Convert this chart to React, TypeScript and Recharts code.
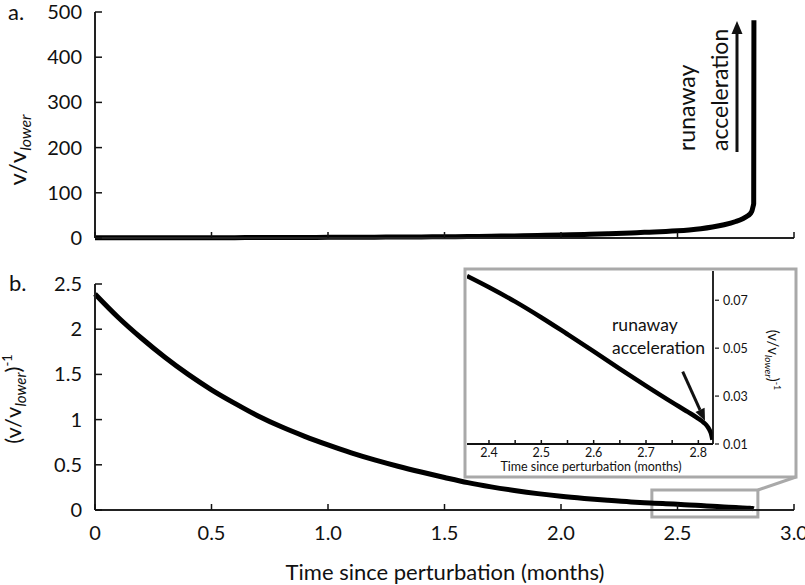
import React from 'react';
import { LineChart, Line, XAxis, YAxis, ReferenceArea } from 'recharts';

// time since perturbation (months)
const time = [
  0, 0.1, 0.2, 0.3, 0.4, 0.5, 0.6, 0.7, 0.8, 0.9, 1.0, 1.1, 1.2, 1.3, 1.4, 1.5, 1.6, 1.7, 1.8, 1.9,
  2.0, 2.1, 2.2, 2.3, 2.358, 2.4, 2.45, 2.5, 2.55, 2.6, 2.65, 2.7, 2.75, 2.78, 2.8, 2.81, 2.815, 2.82, 2.824, 2.827,
];

// (v/v_lower)^-1, panel b and inset
const inverseVelocity = [
  2.39, 2.13, 1.9, 1.69, 1.5, 1.33, 1.18, 1.04, 0.92, 0.815, 0.72, 0.632, 0.554, 0.484, 0.42, 0.36, 0.303, 0.256, 0.216, 0.181,
  0.152, 0.128, 0.107, 0.0885, 0.0801, 0.0754, 0.0694, 0.0628, 0.0558, 0.0487, 0.0414, 0.0343, 0.0274, 0.0234, 0.0206, 0.019, 0.018, 0.0164, 0.0145, 0.0118,
];

// v/v_lower, panel a
const velocityRatio = [
  0.4, 0.5, 0.5, 0.6, 0.7, 0.8, 0.8, 1.0, 1.1, 1.2, 1.4, 1.6, 1.8, 2.1, 2.4, 2.8, 3.3, 3.9, 4.6, 5.5,
  6.6, 7.8, 9.3, 11.2, 12.5, 13.3, 14.4, 15.9, 17.9, 20.5, 24.2, 29.2, 36.5, 42.7, 48.5, 52.6, 55.6, 61, 69, 76,
];
// final runaway point of panel a
const spikeTime = 2.828;
const spikeValue = 482;

const mainXTicks = [0, 0.5, 1, 1.5, 2, 2.5, 3];
const mainXTickLabels = ['0', '0.5', '1.0', '1.5', '2.0', '2.5', '3.0'];
const topYTicks = [0, 100, 200, 300, 400, 500];
const bottomYTicks = [0, 0.5, 1, 1.5, 2, 2.5];
const bottomYTickLabels = ['0', '0.5', '1', '1.5', '2', '2.5'];
const insetXTicks = [2.4, 2.45, 2.5, 2.55, 2.6, 2.65, 2.7, 2.75, 2.8];
const insetXTickLabels = ['2.4', '', '2.5', '', '2.6', '', '2.7', '', '2.8'];
const insetYTicks = [0.01, 0.03, 0.05, 0.07];
const insetYTickLabels = ['0.01', '0.03', '0.05', '0.07'];

// zoom window drawn on panel b
const zoomBox = { x1: 2.39, x2: 2.845, y1: -0.078, y2: 0.222 };

const topData = [
  ...time.map((t, i) => ({ t, v: velocityRatio[i] })),
  { t: spikeTime, v: spikeValue },
];
const bottomData = time.map((t, i) => ({ t, inv: inverseVelocity[i] }));
const insetData = bottomData.filter((d) => d.t >= 2.358);

const FONT = 'Lato, "Open Sans", sans-serif';
const INK = '#111';
const GRAY = '#a9a9a9';

// ticks pointing up into the plot, label below
const upTick = (labels: string[], ticksArr: number[], len: number, gap: number, size: number) => (props: any) => {
  const { x, y, payload } = props;
  const i = ticksArr.indexOf(payload.value);
  const label = labels[i] ?? '';
  return (
    <g>
      <line x1={x} y1={y} x2={x} y2={y - len} stroke={INK} strokeWidth={1.5} />
      {label && (
        <text x={x} y={y + gap} textAnchor="middle" fontSize={size} fontFamily={FONT} fill={INK}>
          {label}
        </text>
      )}
    </g>
  );
};

// ticks pointing right into the plot, label on the left
const rightTick = (labels: string[], ticksArr: number[]) => (props: any) => {
  const { x, y, payload } = props;
  const i = ticksArr.indexOf(payload.value);
  return (
    <g>
      <line x1={x} y1={y} x2={x + 7} y2={y} stroke={INK} strokeWidth={1.5} />
      <text x={x - 13} y={y + 7} textAnchor="end" fontSize={20} fontFamily={FONT} fill={INK}>
        {labels[i]}
      </text>
    </g>
  );
};

// inset right axis: short outward tick, label right
const insetYTick = (props: any) => {
  const { x, y, payload } = props;
  const i = insetYTicks.indexOf(payload.value);
  return (
    <g>
      <line x1={x + 2} y1={y} x2={x + 6} y2={y} stroke={INK} strokeWidth={1.2} />
      <text x={x + 10} y={y + 4.5} textAnchor="start" fontSize={12.5} fontFamily={FONT} fill={INK}>
        {insetYTickLabels[i]}
      </text>
    </g>
  );
};

const axisLine = { stroke: '#222', strokeWidth: 2 };

export default function App() {
  return (
    <div style={{ position: 'absolute', left: 0, top: 0, width: 805, height: 585, background: '#fff', fontFamily: FONT }}>
      {/* panel a */}
      <div style={{ position: 'absolute', left: 0, top: 0 }}>
        <LineChart width={805} height={250} data={topData} margin={{ top: 12, right: 11, bottom: 0, left: 0 }}>
          <XAxis
            dataKey="t"
            type="number"
            domain={[0, 3]}
            ticks={mainXTicks}
            interval={0}
            height={12}
            tickSize={0}
            tickMargin={0}
            tickLine={false}
            axisLine={axisLine}
            tick={upTick([], mainXTicks, 6, 0, 20)}
          />
          <YAxis
            type="number"
            domain={[0, 500]}
            ticks={topYTicks}
            interval={0}
            width={95}
            tickSize={0}
            tickMargin={0}
            tickLine={false}
            axisLine={axisLine}
            tick={rightTick(topYTicks.map(String), topYTicks)}
          />
          <Line type="monotone" dataKey="v" stroke="#000" strokeWidth={5} dot={false} isAnimationActive={false} />
        </LineChart>
      </div>

      {/* panel b */}
      <div style={{ position: 'absolute', left: 0, top: 260 }}>
        <LineChart width={805} height={325} data={bottomData} margin={{ top: 24, right: 11, bottom: 0, left: 0 }}>
          <XAxis
            dataKey="t"
            type="number"
            domain={[0, 3]}
            ticks={mainXTicks}
            interval={0}
            height={75}
            tickSize={0}
            tickMargin={0}
            tickLine={false}
            axisLine={axisLine}
            tick={upTick(mainXTickLabels, mainXTicks, 6, 30, 20)}
          />
          <YAxis
            type="number"
            domain={[0, 2.5]}
            ticks={bottomYTicks}
            interval={0}
            width={95}
            tickSize={0}
            tickMargin={0}
            tickLine={false}
            axisLine={axisLine}
            tick={rightTick(bottomYTickLabels, bottomYTicks)}
          />
          <ReferenceArea
            x1={zoomBox.x1}
            x2={zoomBox.x2}
            y1={zoomBox.y1}
            y2={zoomBox.y2}
            ifOverflow="visible"
            fill="none"
            stroke={GRAY}
            strokeWidth={3}
          />
          <Line type="monotone" dataKey="inv" stroke="#000" strokeWidth={5} dot={false} isAnimationActive={false} />
        </LineChart>
      </div>

      {/* inset */}
      <div style={{ position: 'absolute', left: 467, top: 262 }}>
        <LineChart width={330} height={215} data={insetData} margin={{ top: 9, right: 0, bottom: 0, left: 0 }}>
          <XAxis
            dataKey="t"
            type="number"
            domain={[2.358, 2.828]}
            allowDataOverflow
            ticks={insetXTicks}
            interval={0}
            height={33}
            tickSize={0}
            tickMargin={0}
            tickLine={false}
            axisLine={{ stroke: INK, strokeWidth: 1.8 }}
            tick={upTick(insetXTickLabels, insetXTicks, 4, 13, 12.5)}
          />
          <YAxis
            orientation="right"
            type="number"
            domain={[0.01, 0.0822]}
            allowDataOverflow
            ticks={insetYTicks}
            interval={0}
            width={84}
            tickSize={0}
            tickMargin={0}
            tickLine={false}
            axisLine={{ stroke: INK, strokeWidth: 1.8 }}
            tick={insetYTick}
          />
          <Line type="monotone" dataKey="inv" stroke="#000" strokeWidth={4.5} dot={false} isAnimationActive={false} />
        </LineChart>
      </div>

      {/* labels, annotations and inset frame */}
      <svg
        width={805}
        height={585}
        style={{ position: 'absolute', left: 0, top: 0, pointerEvents: 'none' }}
        fontFamily={FONT}
        fill={INK}
      >
        <text x={8} y={20} fontSize={22}>a.</text>
        <text x={9} y={291} fontSize={22}>b.</text>

        <text transform="translate(26,150) rotate(-90)" textAnchor="middle" fontSize={24}>
          v/v
          <tspan fontSize={16} fontStyle="italic" dy={5}>lower</tspan>
        </text>
        <text transform="translate(21,399) rotate(-90)" textAnchor="middle" fontSize={22}>
          (v/v
          <tspan fontSize={15} fontStyle="italic" dy={5}>lower</tspan>
          <tspan dy={-5}>)</tspan>
          <tspan fontSize={13} dy={-9}>-1</tspan>
        </text>

        <text x={445} y={580} textAnchor="middle" fontSize={22}>Time since perturbation (months)</text>

        <text transform="translate(695,151) rotate(-90)" textAnchor="start" fontSize={23}>runaway</text>
        <text transform="translate(728,151) rotate(-90)" textAnchor="start" fontSize={23}>acceleration</text>
        <line x1={737} y1={152} x2={737} y2={32} stroke={INK} strokeWidth={3} />
        <polygon points="737,21 731.5,34 742.5,34" fill={INK} />

        <rect x={465} y={269} width={331} height={208} fill="none" stroke={GRAY} strokeWidth={3} />
        <line x1={796} y1={477} x2={758} y2={490} stroke={GRAY} strokeWidth={3} />

        <text x={591} y={471} textAnchor="middle" fontSize={12.5}>Time since perturbation (months)</text>
        <text transform="translate(768,360) rotate(90)" textAnchor="middle" fontSize={15}>
          (v/v
          <tspan fontSize={10} fontStyle="italic" dy={3}>lower</tspan>
          <tspan dy={-3}>)</tspan>
          <tspan fontSize={9} dy={-6}>-1</tspan>
        </text>

        <text x={612} y={331} fontSize={17.5}>runaway</text>
        <text x={612} y={354} fontSize={17.5}>acceleration</text>
        <line x1={682.7} y1={371.7} x2={700} y2={409.8} stroke={INK} strokeWidth={3} />
        <polygon points="705,420.7 704.6,407.7 695.5,411.9" fill={INK} />
      </svg>
    </div>
  );
}
